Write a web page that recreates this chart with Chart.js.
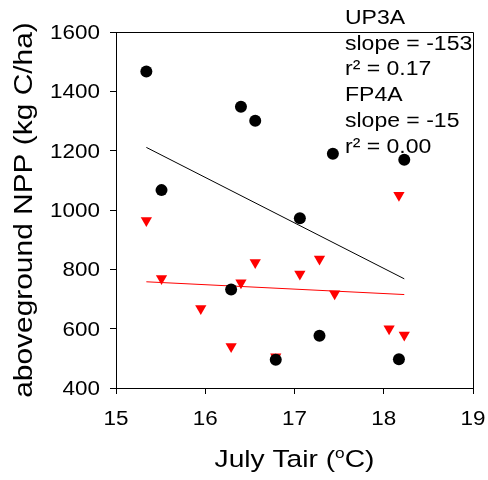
<!DOCTYPE html>
<html>
<head>
<meta charset="utf-8">
<script src="https://cdn.jsdelivr.net/npm/chart.js@4/dist/chart.umd.min.js"></script>
<style>
html,body{margin:0;padding:0;background:#fff;}
canvas{display:block;}
</style>
</head>
<body>
<canvas id="c" width="488" height="480"></canvas>
<script>
// UP3A (black circles)
const upX = [15.34, 15.51, 16.29, 16.40, 16.56, 16.79, 17.06, 17.28, 17.43, 18.17, 18.23];
const upY = [1467, 1067, 732, 1348, 1301, 495, 972, 576, 1190, 497, 1169];
// FP4A (red triangles)
const fpX = [15.34, 15.51, 15.95, 16.29, 16.40, 16.56, 16.79, 17.06, 17.28, 17.45, 18.06, 18.17, 18.23];
const fpY = [965, 769, 668, 540, 755, 823, 505, 784, 835, 718, 600, 1050, 579];
// regression lines (end points)
const fitX = [15.34, 18.23];
const upFitY = [1211, 768];
const fpFitY = [758, 715];
// ticks
const xTicks = [15, 16, 17, 18, 19];
const yTicks = [400, 600, 800, 1000, 1200, 1400, 1600];
// annotation text
const annLines = ['UP3A', 'slope = -153', 'r\u00B2 = 0.17', 'FP4A', 'slope = -15', 'r\u00B2 = 0.00'];

const FONT = '"Liberation Sans", Arial, Helvetica, sans-serif';
const SX = 1.15; // horizontal widening of the lettering
const pts = (xs, ys) => xs.map((x, i) => ({x: x, y: ys[i]}));

function wideText(ctx, str, x, y, font, align) {
  ctx.save();
  ctx.translate(x, y);
  ctx.scale(SX, 1);
  ctx.font = font;
  ctx.textAlign = align;
  ctx.textBaseline = 'alphabetic';
  ctx.fillText(str, 0, 0);
  ctx.restore();
}

const decor = {
  id: 'decor',
  afterDraw(chart) {
    const ctx = chart.ctx, a = chart.chartArea;
    const xs = chart.scales.x, ys = chart.scales.y;
    ctx.save();
    // top & right frame
    ctx.strokeStyle = '#000';
    ctx.lineWidth = 1;
    ctx.beginPath();
    ctx.moveTo(a.left, Math.round(a.top) + 0.5);
    ctx.lineTo(Math.round(a.right) + 0.5, Math.round(a.top) + 0.5);
    ctx.lineTo(Math.round(a.right) + 0.5, a.bottom);
    ctx.stroke();
    ctx.fillStyle = '#000';
    // tick labels
    const tf = '19.5px ' + FONT;
    xTicks.forEach(v => wideText(ctx, String(v), xs.getPixelForValue(v), 425, tf, 'center'));
    yTicks.forEach(v => wideText(ctx, String(v), 100, ys.getPixelForValue(v) + 7, tf, 'right'));
    // annotations
    annLines.forEach((t, i) => wideText(ctx, t, 345, 24 + i * 25.7, '20px ' + FONT, 'left'));
    // x title with superscript o
    const big = '24.5px ' + FONT, small = '15px ' + FONT;
    const p1 = 'July Tair (', p2 = 'o', p3 = 'C)';
    ctx.font = big; const w1 = ctx.measureText(p1).width * SX, w3 = ctx.measureText(p3).width * SX;
    ctx.font = small; const w2 = ctx.measureText(p2).width * SX;
    const cx = (a.left + a.right) / 2;
    const x0 = cx - (w1 + w2 + w3) / 2;
    const by = 467;
    wideText(ctx, p1, x0, by, big, 'left');
    wideText(ctx, p2, x0 + w1, by - 9, small, 'left');
    wideText(ctx, p3, x0 + w1 + w2, by, big, 'left');
    // y title
    ctx.save();
    ctx.translate(32, (a.top + a.bottom) / 2);
    ctx.rotate(-Math.PI / 2);
    wideText(ctx, 'aboveground NPP (kg C/ha)', 0, 0, '26px ' + FONT, 'center');
    ctx.restore();
    ctx.restore();
  }
};

new Chart(document.getElementById('c'), {
  type: 'scatter',
  data: {
    datasets: [
      {
        label: 'UP3A',
        data: pts(upX, upY),
        pointStyle: 'circle',
        pointRadius: 6,
        pointBackgroundColor: '#000',
        pointBorderColor: '#000',
        pointBorderWidth: 0
      },
      {
        label: 'FP4A',
        data: pts(fpX, fpY),
        pointStyle: 'triangle',
        pointRotation: 180,
        pointRadius: 6.5,
        pointBackgroundColor: '#ff0000',
        pointBorderColor: '#ff0000',
        pointBorderWidth: 0
      },
      {
        label: 'UP3A fit',
        data: pts(fitX, upFitY),
        showLine: true,
        borderColor: '#000',
        borderWidth: 1,
        pointRadius: 0
      },
      {
        label: 'FP4A fit',
        data: pts(fitX, fpFitY),
        showLine: true,
        borderColor: '#ff0000',
        borderWidth: 1,
        pointRadius: 0
      }
    ]
  },
  options: {
    responsive: false,
    animation: false,
    devicePixelRatio: 1,
    layout: {padding: {left: 0, top: 32, right: 15, bottom: 0}},
    plugins: {legend: {display: false}, tooltip: {enabled: false}},
    scales: {
      x: {
        type: 'linear',
        min: 15, max: 19,
        afterBuildTicks: s => { s.ticks = xTicks.map(v => ({value: v})); },
        afterFit: s => { s.height = 92; s.paddingLeft = 0; s.paddingRight = 0; },
        grid: {drawOnChartArea: false, drawTicks: true, tickLength: 6, color: '#000'},
        border: {display: true, color: '#000', width: 1},
        ticks: {display: false}
      },
      y: {
        type: 'linear',
        min: 400, max: 1600,
        afterBuildTicks: s => { s.ticks = yTicks.map(v => ({value: v})); },
        afterFit: s => { s.width = 116; s.paddingTop = 0; s.paddingBottom = 0; },
        grid: {drawOnChartArea: false, drawTicks: true, tickLength: 6, color: '#000'},
        border: {display: true, color: '#000', width: 1},
        ticks: {display: false}
      }
    }
  },
  plugins: [decor]
});
</script>
</body>
</html>
